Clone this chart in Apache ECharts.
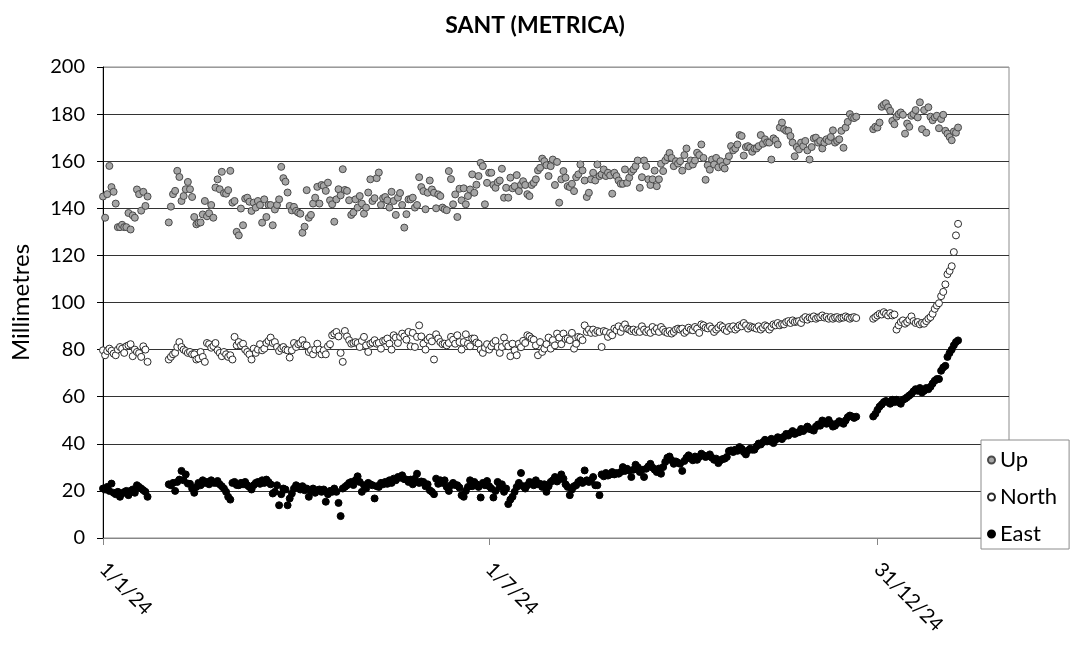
<!DOCTYPE html>
<html>
<head>
<meta charset="utf-8">
<script src="https://cdn.jsdelivr.net/npm/echarts@6/dist/echarts.min.js"></script>
<style>
html,body{margin:0;padding:0;background:#fff;}
#main{width:1070px;height:648px;}
</style>
</head>
<body>
<div id="main"></div>
<script>
// ---- Data (mm), one value per day, three continuous runs of observations ----
const seriesNames = ['Up', 'North', 'East'];
const epochDate = '2024-01-01';
const axisEndDate = '2025-03-03';
const segmentStartDates = ['2024-01-01', '2024-02-01', '2024-12-29'];
const tickDates = ['2024-01-01', '2024-07-01', '2024-12-31'];
const tickLabels = ['1/1/24', '1/7/24', '31/12/24'];

const upA = [145,136,146,158,149,147,142,132,132,133,132,132,138,131,137,136,148,146,139,147,141,145];
const upB = [
134,140.7,146,147.4,155.9,153.3,143.1,145.2,148.1,151.2,
148.1,144.8,136.3,133.2,133.8,134,137.4,143.1,136.6,137.9,
141.4,136,148.8,152.3,148.1,155.5,146.4,146.2,147.7,155.9,
142.4,143.1,130,128.5,139.9,132.8,144.1,144.5,142.8,138.9,
142.4,140.3,143.1,141.4,133.9,143.8,136.3,141.4,141.4,132.8,139.5,
141.4,143.8,157.6,152.8,151.3,146.7,141,139.1,140.6,138.9,
138.2,137.7,129.6,132.2,147.7,136,137.2,142,144.5,149.1,
142,149.9,149.5,147.4,150.9,143.4,141.7,134.3,143.8,148.1,145.5,
156.6,147.8,147.4,143.4,137.2,138.2,143.8,140.3,145.2,142,
137.7,140.3,146.7,152.3,143.1,144.3,152.8,155.2,141.4,144.3,
144.8,143.4,
140.3,147,143.1,137.2,144.5,146.5,141.4,131.8,137.5,143.8,
143.8,144.5,140.3,141.4,153.2,149,147.3,139.6,146.6,151.8,148,
146.6,140,145.9,145.2,140.3,139.6,139.2,155.8,152.4,141.7,
145.9,136.3,148.3,143.4,148.5,141.7,145.2,148,154.4,146.6,150,
153.7,159.3,157.9,141.7,150.8,155.1,155.1,149.9,148.7,151.1,
151.8,156.8,144.5,148.7,144.5,153,148.5,149.4,154.1,147.3,150,
151.5,149.9,146,145.2,149.9,150.8,152.3,156.1,157.2,161.1,
160,158.3,153.7,157.9,160.7,149.9,159.7,142.4,152.3,155.8,153,
149.4,149,150.4,147.3,153.2,154.4,158.6,156.1,151.8,144.8,
146.6,152.3,155.1,151.8,158.6,153.7,154.4,156.5,153.7,155.1,154,
146.2,155.1,153.7,151.8,150.4,150.4,156.5,150.8,153,155.5,
156.5,157.9,160.3,148.7,153.2,160.3,157.9,152.3,149.9,152.3,156,
149.4,152.3,158.9,155.8,160.3,161.7,163.5,161.4,157.9,160,159,
160,156,162.6,165.4,157.9,160.3,158.6,160.3,163.6,162.6,
167.1,161.4,152.1,158.3,156.4,160.7,158.6,161.4,157.4,160,158,
156.9,160,162.1,166.4,164.6,165.4,167.1,171.1,170.7,162.4,
166,166.4,165.7,164,165.4,165.4,166.4,171.1,167.4,169.3,168,
167.9,160.7,169.7,168.9,167.1,174.3,176.4,173.6,172.9,172.9,
170.7,167.9,162.1,166,165,167.9,166.4,168.6,164.6,160.7,166,
169.7,170,167.9,168.6,165.4,167.9,169.3,168.6,170.3,173.1,
167.9,168.6,169.3,172.9,165.7,174.3,176.7,180,178.6,178.3,
178.9];
const upC = [173.6,174.6,174.3,176.4,183.1,184,184.6,182.9,181.4,177.1,
175.7,178.9,180,180.7,179.7,171.7,176,174.6,179.3,180,
181.7,178.6,185,173.6,181.7,172.1,182.9,178.9,177.4,178.6,
179.3,174,177.9,179.7,172.9,171.7,170.3,168.9,172.6,172.1,174.3];

const northA = [79.7,77.6,79.4,80.4,79.5,78.3,77.6,80,81.1,80.4,78.6,81.4,81.8,82.3,77.2,80,79,78.5,76.9,81.4,80,74.8];
const northB = [
75.8,76.9,78,78.6,81.1,83.2,81.1,80,79.4,78.6,79,
78,78,75.8,76.2,79,76.9,74.8,82.8,82.3,80.8,81.5,
82.8,79.7,78.6,77.2,79,78,76.9,77.6,75.8,85.4,
81.8,83.2,81.8,82.5,80,79,78,75.8,80.4,78.6,80,
82.3,79.7,80.4,82.8,83.7,85.1,82.8,83.2,81.1,79.4,80.5,
81.1,80,79.7,76.6,79.7,82.8,81.1,82.3,82.8,84,82,
81.8,79,79.7,78,80,82.5,80,78,79.7,78,
81.4,82.3,86.1,86.8,87.5,85.6,78.6,74.8,87.9,85.6,84,
82.5,82.8,83.2,82.8,81.1,83.7,85.4,81.8,79,82.5,83,
84,82.5,82.8,80.4,83.7,84,84.7,
82.5,80,86.1,85.1,82.8,85.4,86.8,85.6,84.2,87.5,
81.4,87.1,81.1,85.4,90.3,85.6,82.5,80,84.2,85.1,83.5,
75.8,86.5,84.7,83.2,82.3,82.5,81.8,82.8,85.4,84.2,
82.5,86.1,83.2,80,83.2,86.5,82.5,81.4,84.7,84.7,83,
82.5,80,78.6,80.8,82.3,80,81.4,82.8,83.7,81.1,
78.6,81.1,85.1,82.5,81.4,77.2,82.5,79.7,77.6,82.5,81,
83.7,82.8,86.1,85.6,84.7,84.2,81.8,77.6,83.2,79,
80.4,82.3,85.1,80.4,84,81.8,86.8,85.1,82.3,86.8,84.5,
84.7,84,87.1,80.4,82.5,85.4,85.1,84,90.3,87.5,
88.5,87.1,88.5,87.1,87.9,87.5,81.1,87.9,87.5,85.4,87,
86.1,88.9,88.2,89.9,87.5,89.3,90.7,88.9,88.5,87.9,88.5,
87.5,88.2,87.5,89.9,88.5,87.5,88.2,87.1,89.6,87.9,88.9,
87.5,89.6,88.5,87.5,87.1,87.9,86.8,87.5,88.5,88.9,
88.5,88.9,87.1,87.9,89.3,88.5,88.2,
89.6,88.9,87.1,90.7,90.3,89.3,89,
89.9,88.9,87.5,88.5,89.3,90.3,89.6,
88.5,87.9,89.6,88.9,89.9,88.5,89.3,
90.3,89.9,91.3,90.3,88.9,89.9,89.5,
89.3,88.9,89.9,88.5,89.3,90.3,89.8,
88.5,89.6,90.7,90.3,91.3,90.3,90.8,
90.7,91.7,92.1,91.3,92.4,91.7,91.9,
92.1,91.3,93.1,93.8,92.7,93.6,93.3,
94.1,93.1,93.6,93.8,94.5,93.6,93.9,
93.1,93.8,93.1,93.6,93.8,93.1,93.5,
93.6,94.1,93.6,93.1,93.6,93.8,93.4];
const northC = [93.1,93.8,94.5,95.2,94.9,95.9,95.2,94.5,95.5,94.5,
94.9,88.5,90.3,91.7,92.4,91,91.7,92.7,94.1,92.1,
91.3,91.7,90.7,91.3,91,92.1,93.1,93.8,95.2,97.3,
98.7,99.7,102.7,104.5,107.7,112,113.4,115.4,121.4,128.5,133.4];

const eastA = [21,20.6,21.7,20,23.1,19.2,18.6,19.6,17.5,18.9,19.5,20,18.2,20,20.6,19.2,22.4,21.7,21,20.3,19.6,17.5];
const eastB = [
22.8,22.4,23.4,20,23.8,24.8,28.5,24.5,27,23.1,23,
21,19.2,21.7,23.4,22.4,24.5,23.4,23.8,22.8,24.5,23.5,
23.4,24.2,22.8,22,21,19.6,17.5,16.3,23.4,23.8,22.5,
22.4,23.4,22.8,23.8,22.4,21.7,20.6,22.4,23.4,23.8,23,
24.5,23.4,24.8,23.8,22.8,18.9,19.6,22.4,13.9,18.6,21,
20.6,13.9,16.8,18.9,21,22.4,21.7,20.6,22,20.3,21,
17.5,20,21,19.2,20.3,20.6,19.6,20.6,15.4,18.6,20,
19.6,21,19.6,14.9,9.3,21,21.7,22.4,23.4,23.8,22.5,
24.5,26.2,23.8,19.6,22.4,21,23.4,22.8,22.4,16.8,22,
21.7,23.4,22.8,23.8,23,
24.5,23.4,25.2,24.5,25.9,25.6,26.6,25,
24.8,23.8,24.8,22.8,25.2,27.3,23.4,24,
23.8,22,22.8,20.3,19.6,18.6,25.2,23,
24.5,23.4,24.5,21.7,20,22.4,23.4,22.5,
22.4,21.4,18.2,17.5,20,21.7,24.5,22,
23.8,22.8,21.7,17.2,23.4,22.4,24.2,22,
21,17.2,20,23.8,21.7,22.8,19.6,21,
14.4,16.3,17.5,19.6,21.7,23.4,27.6,22,
21,22.4,23.8,23.4,22.4,24.5,22.8,23,
21.7,22.8,19.6,22,23.8,24.5,25.9,24,
24.8,27,25.2,22.8,21.7,18.2,20.6,22,
22.4,23.8,24.5,23.4,28.7,24.5,23.8,24.5,
25.9,22.4,22.4,18.2,27,26.2,27.6,26.5,
27,28,27,27.6,27.3,28,30.1,28.5,
29.4,28.7,25.9,29,31.1,30.1,28,29,
25.9,29.4,30.4,31.5,29.9,29,28,29.5,
27.3,30.1,32.3,34.1,34.6,33,31.5,32.5,32,
31.5,28.5,32.7,34.1,35.1,33.7,33,
34.6,33.2,34.4,35.8,35.1,34.4,34.8,
35.5,34.1,33.2,33.7,31.8,33,33.5,
33.7,34.4,36.9,37.2,36.5,37.5,37,
38.6,37.9,36.5,35.5,37.2,37.9,37.5,
37.5,38.9,40.1,39.7,40.7,41.7,41,
41.1,42.1,40.3,41.7,42.8,42.5,42,
43.1,44.2,43.5,44.5,45.4,44.2,44.7,
44.9,46.3,45.4,46.3,47.3,46.3,46,
45.6,47.3,48.2,47.7,49.9,49.2,48.5,
50.1,48.7,47.3,47.7,48.7,49.6,49,
48.5,49.9,51.3,52,51.6,51,51.5];
const eastC = [51.6,52.7,54.4,55.8,56.7,57.7,58.2,57.7,57,58.7,
57.7,58.7,57.7,57,58.7,59.1,59.8,60.5,61.2,62.3,
63.2,62.5,63.7,61.8,62.5,63.7,63.2,64.2,65.6,66.8,
67.5,67.5,71,72.4,73.1,76.9,78.6,80,81.8,83.2,83.9];

// ---- helpers ----
const DAY = 86400000;
function dayOf(d) { return Math.round((Date.parse(d + 'T00:00:00Z') - Date.parse(epochDate + 'T00:00:00Z')) / DAY); }
const segStartDays = segmentStartDates.map(dayOf);
const tickDays = tickDates.map(dayOf);
function build(segs) {
  const out = [];
  segs.forEach((vals, s) => vals.forEach((v, i) => { if (v != null) out.push([segStartDays[s] + i, v]); }));
  return out;
}
const seriesData = [build([upA, upB, upC]), build([northA, northB, northC]), build([eastA, eastB, eastC])];

const font = 'Lato, "Open Sans", sans-serif';
const styles = [
  { color: '#a6a6a6', borderColor: '#4a4a4a', borderWidth: 1, opacity: 1 },
  { color: '#ffffff', borderColor: '#2a2a2a', borderWidth: 1, opacity: 1 },
  { color: '#000000', borderColor: '#000000', borderWidth: 1, opacity: 1 }
];

const chart = echarts.init(document.getElementById('main'));
chart.setOption({
  animation: false,
  backgroundColor: '#fff',
  textStyle: { fontFamily: font },
  title: {
    text: 'SANT (METRICA)', left: 'center', top: 9,
    textStyle: { fontFamily: font, fontWeight: 'bold', fontSize: 23, color: '#000' }
  },
  grid: { left: 103, right: 61, top: 67, bottom: 110, show: true, borderColor: '#8c8c8c', borderWidth: 1 },
  legend: {
    orient: 'vertical', left: 981, top: 440,
    data: seriesNames,
    icon: 'circle', itemWidth: 7, itemHeight: 7, itemGap: 15,
    backgroundColor: '#fff', borderColor: '#8c8c8c', borderWidth: 1,
    padding: [9, 12, 4, 6],
    textStyle: { fontSize: 22, color: '#000', fontFamily: font }
  },
  xAxis: {
    type: 'value', min: 0, max: dayOf(axisEndDate),
    axisLine: { show: true, onZero: false, lineStyle: { color: '#868686' } },
    axisTick: { show: true, customValues: tickDays, length: 7, lineStyle: { color: '#868686' } },
    axisLabel: {
      customValues: tickDays, rotate: -45, margin: 28, fontSize: 20, color: '#000', fontFamily: font,
      formatter: v => { const k = tickDays.indexOf(Math.round(v)); return k >= 0 ? tickLabels[k] : ''; }
    },
    splitLine: { show: false }
  },
  yAxis: {
    type: 'value', min: 0, max: 200, interval: 20,
    name: 'Millimetres', nameLocation: 'middle', nameGap: 70,
    nameTextStyle: { fontSize: 24, color: '#000', fontFamily: font },
    axisLine: { show: true, lineStyle: { color: '#000' } },
    axisTick: { show: true, length: 6, lineStyle: { color: '#000' } },
    axisLabel: { fontSize: 20, margin: 18, color: '#000', fontFamily: font },
    splitLine: { show: true, lineStyle: { color: ['#7a7a7a','#333','#333','#333','#333','#333','#333','#333','#333','#333','#9a9a9a'] } }
  },
  series: seriesNames.map((n, i) => ({
    name: n, type: 'scatter', symbol: 'circle', symbolSize: 7,
    itemStyle: styles[i], data: seriesData[i]
  }))
});
</script>
</body>
</html>
